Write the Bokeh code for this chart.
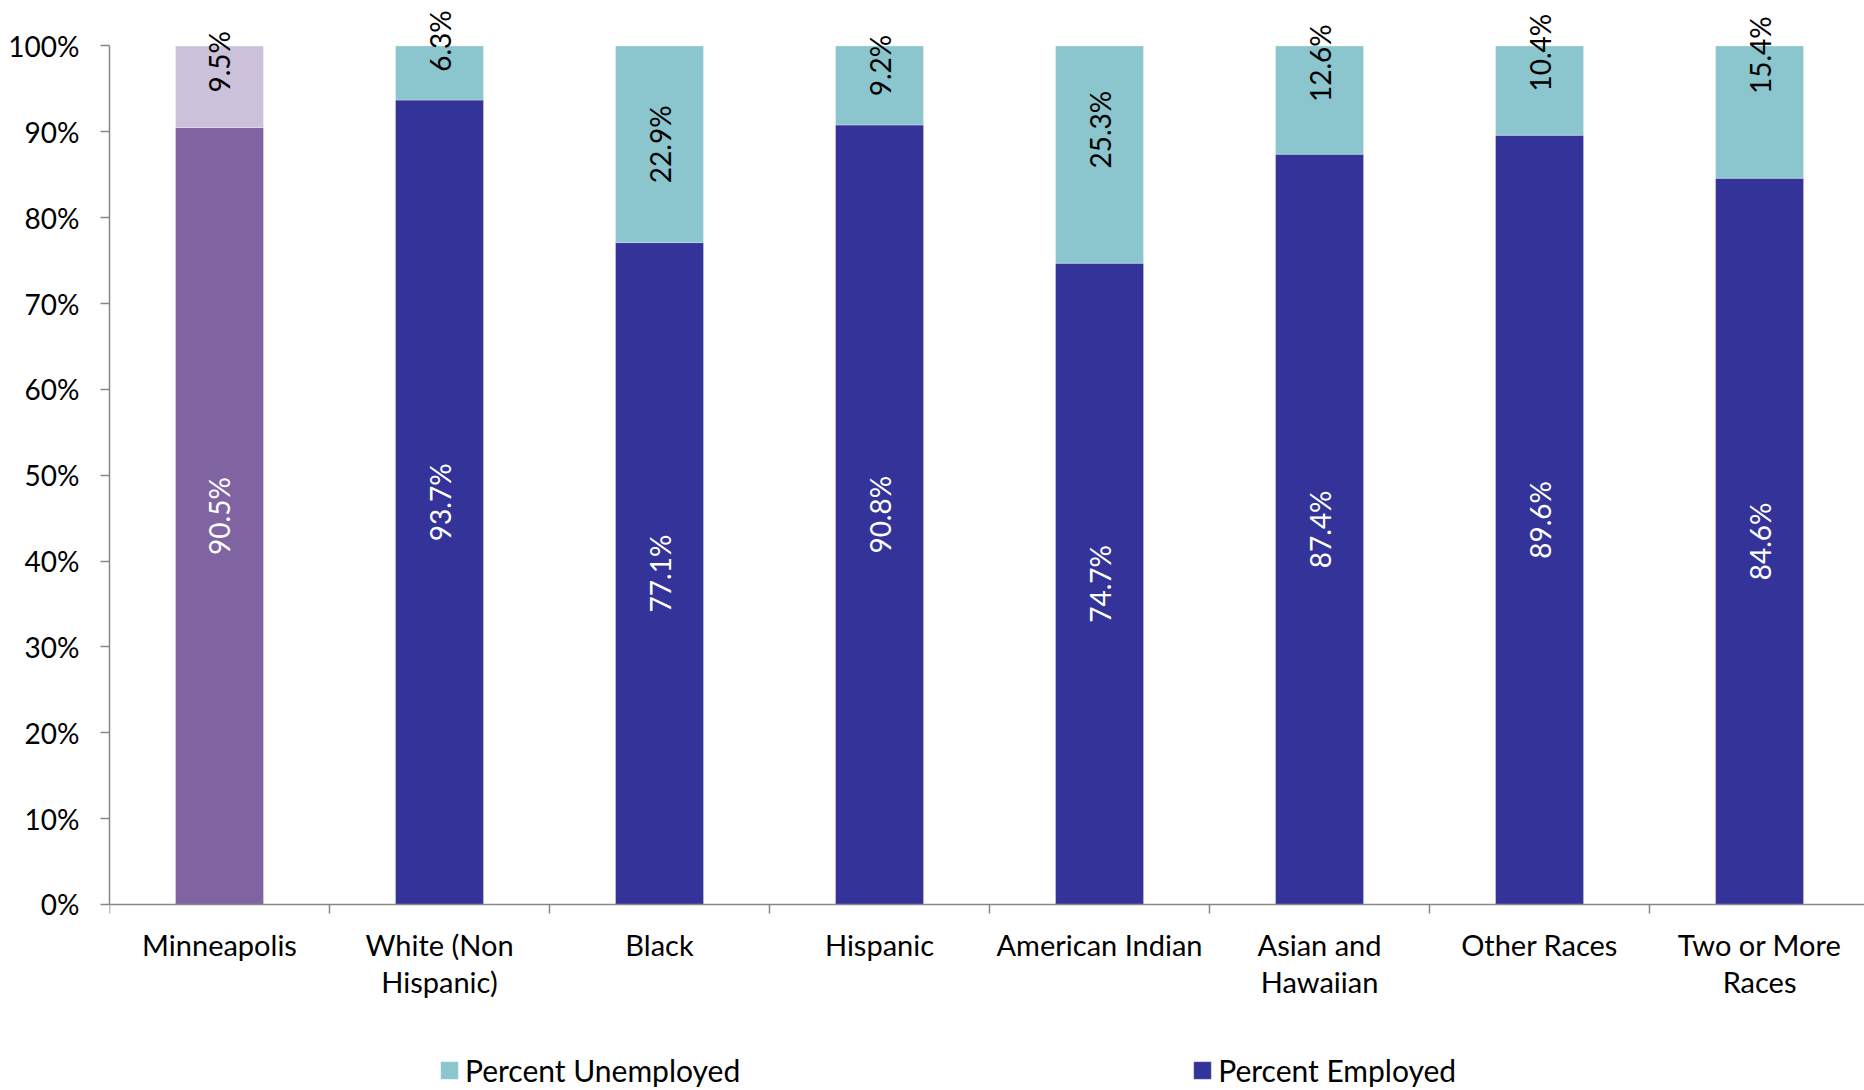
import math
from bokeh.plotting import figure
from bokeh.models import (ColumnDataSource, Range1d, FixedTicker, NumeralTickFormatter,
                          LabelSet, Legend, LegendItem)
from bokeh.core.properties import value
from bokeh.embed import file_html
from bokeh.resources import INLINE

# ---- data ----
categories = ["Minneapolis", "White (Non\nHispanic)", "Black", "Hispanic",
              "American Indian", "Asian and\nHawaiian", "Other Races", "Two or More\nRaces"]
employed = [90.5, 93.7, 77.1, 90.8, 74.7, 87.4, 89.6, 84.6]
unemployed = [9.5, 6.3, 22.9, 9.2, 25.3, 12.6, 10.4, 15.4]
y_ticks = [0, 10, 20, 30, 40, 50, 60, 70, 80, 90, 100]

# ---- styling ----
emp_colors = ["#8064A2"] + ["#333399"] * 7
unemp_colors = ["#CCC1DA"] + ["#8BC5CD"] * 7
unemp_label_nudge = [25, 32, 0, 20, 25, 37, 38, 57]  # px upward, as placed in the original
FONT = "Lato"
NUM_FS = "28px"
TXT_FS = "29px"

n = len(categories)
xs = [i + 0.5 for i in range(n)]
emp_frac = [v / 100 for v in employed]
unemp_frac = [v / 100 for v in unemployed]

src = ColumnDataSource(dict(
    x=xs,
    emp=emp_frac,
    top_all=[e + u for e, u in zip(emp_frac, unemp_frac)],
    emp_color=emp_colors,
    unemp_color=unemp_colors,
    emp_label=[f"{v:.1f}%" for v in employed],
    unemp_label=[f"{v:.1f}%" for v in unemployed],
    emp_mid=[e / 2 for e in emp_frac],
    unemp_mid=[e + u / 2 for e, u in zip(emp_frac, unemp_frac)],
    nudge=unemp_label_nudge,
))

W, H = 1864, 1090
p = figure(width=W, height=H, output_backend="svg", toolbar_location=None,
           x_range=Range1d(0, 7.977), y_range=Range1d(-0.2167, 1.053),
           min_border_left=109, min_border_right=0, min_border_top=0,
           min_border_bottom=0)
p.outline_line_color = None
p.xgrid.visible = False
p.ygrid.visible = False
p.background_fill_color = "white"
p.border_fill_color = "white"

r_emp = p.vbar(x="x", bottom=0, top="emp", width=0.4, source=src,
               fill_color="emp_color", line_color="white", line_alpha=0.3, line_width=1)
r_unemp = p.vbar(x="x", bottom="emp", top="top_all", width=0.4, source=src,
                 fill_color="unemp_color", line_color="white", line_alpha=0.3, line_width=1)

# value labels
p.add_layout(LabelSet(x="x", y="emp_mid", text="emp_label", source=src, angle=math.pi / 2,
                      text_align="center", text_baseline="middle", text_color="white",
                      text_font=value(FONT), text_font_size=NUM_FS))
p.add_layout(LabelSet(x="x", y="unemp_mid", text="unemp_label", source=src, angle=math.pi / 2,
                      y_offset="nudge",
                      text_align="center", text_baseline="middle", text_color="black",
                      text_font=value(FONT), text_font_size=NUM_FS))

AX = "#868686"
# y axis
ya = p.yaxis[0]
ya.bounds = (0, 1)
ya.ticker = FixedTicker(ticks=[t / 100 for t in y_ticks])
ya.formatter = NumeralTickFormatter(format="0%")
ya.axis_line_color = AX
ya.axis_line_width = 1.5
ya.major_tick_line_color = AX
ya.major_tick_line_width = 1.5
ya.major_tick_out = 9
ya.major_tick_in = 0
ya.minor_tick_line_color = None
ya.major_label_standoff = 21
ya.major_label_text_font = FONT
ya.major_label_text_font_size = NUM_FS
ya.major_label_text_color = "black"

# x axis, drawn at y = 0
xa = p.xaxis[0]
xa.fixed_location = 0
xa.ticker = FixedTicker(ticks=xs, minor_ticks=list(range(n + 1)))
xa.major_label_overrides = {x: c for x, c in zip(xs, categories)}
xa.axis_line_color = AX
xa.axis_line_width = 1.5
xa.major_tick_line_color = None
xa.major_tick_out = 0
xa.major_tick_in = 0
xa.minor_tick_line_color = AX
xa.minor_tick_line_width = 1.5
xa.minor_tick_out = 9
xa.minor_tick_in = 0
xa.major_label_standoff = 14
xa.major_label_text_font = FONT
xa.major_label_text_font_size = TXT_FS
xa.major_label_text_color = "black"
xa.major_label_text_line_height = 1.05

legend = Legend(items=[
    LegendItem(label="Percent Unemployed", renderers=[r_unemp], index=1),
    LegendItem(label="Percent Employed", renderers=[r_emp], index=1),
], orientation="horizontal", location=(329, 2), spacing=451,
    glyph_width=22, glyph_height=22, label_standoff=5,
    label_text_font=FONT, label_text_font_size="30px", label_text_color="black",
    border_line_color=None, background_fill_color=None, padding=0, margin=0)
p.add_layout(legend, "center")

open("out.html", "w").write(file_html(p, INLINE))
